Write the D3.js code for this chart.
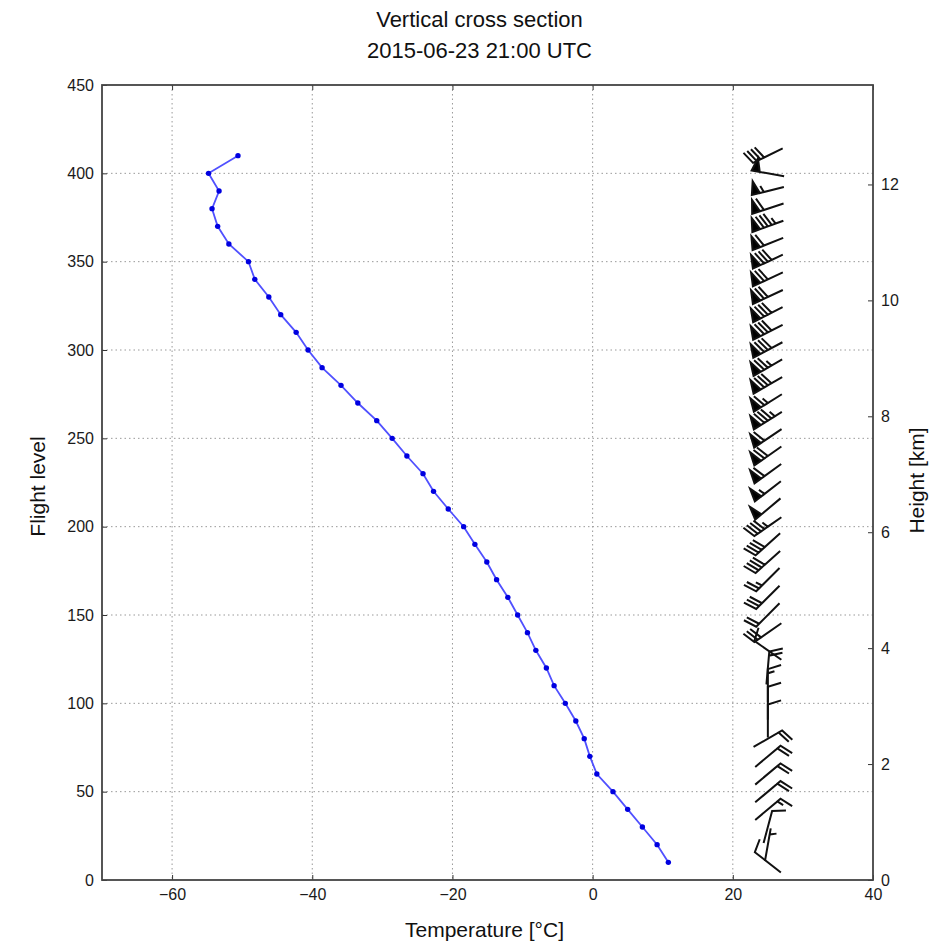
<!DOCTYPE html>
<html>
<head>
<meta charset="utf-8">
<script src="https://cdn.jsdelivr.net/npm/d3@7"></script>
<style>
  body { margin: 0; background: #fff; }
  svg { font-family: "Liberation Sans", Arial, sans-serif; }
</style>
</head>
<body>
<svg id="chart" width="934" height="942"></svg>
<script>
// flight levels of the sounding (hundreds of feet)
var flightLevels = [10, 20, 30, 40, 50, 60, 70, 80, 90, 100,
    110, 120, 130, 140, 150, 160, 170, 180, 190, 200,
    210, 220, 230, 240, 250, 260, 270, 280, 290, 300,
    310, 320, 330, 340, 350, 360, 370, 380, 390, 400, 410];

// temperature in degC
var temperature = [10.8, 9.2, 7.1, 5.0, 2.9, 0.6, -0.4, -1.2, -2.4, -3.9,
    -5.5, -6.6, -8.1, -9.3, -10.7, -12.1, -13.7, -15.1, -16.8, -18.4,
    -20.6, -22.7, -24.2, -26.5, -28.6, -30.8, -33.5, -35.9, -38.6, -40.6,
    -42.3, -44.5, -46.2, -48.2, -49.1, -51.9, -53.5, -54.3, -53.3, -54.8, -50.6];

// wind direction (deg, from) and speed (kt)
var windDir = [308, 10, 15, 50, 50, 50, 50, 60, 0, 0,
    0, 5, 305, 235, 225, 225, 225, 228, 228, 235,
    230, 232, 234, 235, 236, 238, 238, 240, 240, 242,
    243, 243, 245, 245, 245, 248, 250, 252, 256, 280, 244];
var windSpeed = [10, 5, 10, 15, 20, 20, 20, 20, 10, 10,
    15, 20, 10, 30, 20, 30, 25, 40, 40, 45,
    50, 55, 60, 70, 60, 85, 65, 80, 75, 80,
    80, 80, 70, 70, 80, 60, 85, 60, 55, 50, 40];

var barbX = 25;

var xTicks = [-60, -40, -20, 0, 20, 40];
var yTicks = [0, 50, 100, 150, 200, 250, 300, 350, 400, 450];
var kmTicks = [0, 2, 4, 6, 8, 10, 12];

var svg = d3.select("#chart");

var pLeft = 102, pRight = 873, pTop = 85, pBottom = 880;

var x = d3.scaleLinear().domain([-70, 40]).range([pLeft, pRight]);
var y = d3.scaleLinear().domain([0, 450]).range([pBottom, pTop]);
var yKm = d3.scaleLinear().domain([0, 450 * 100 * 0.3048 / 1000]).range([pBottom, pTop]);

// grid
var grid = svg.append("g");
grid.selectAll(".gx").data(xTicks.filter(function(d){ return d > -70 && d < 40; }))
    .enter().append("line")
    .attr("x1", function(d){ return x(d); }).attr("x2", function(d){ return x(d); })
    .attr("y1", pTop).attr("y2", pBottom)
    .attr("stroke", "#999").attr("stroke-width", 1).attr("stroke-dasharray", "1.5,3");
grid.selectAll(".gy").data(yTicks.filter(function(d){ return d > 0 && d < 450; }))
    .enter().append("line")
    .attr("x1", pLeft).attr("x2", pRight)
    .attr("y1", function(d){ return y(d); }).attr("y2", function(d){ return y(d); })
    .attr("stroke", "#999").attr("stroke-width", 1).attr("stroke-dasharray", "1.5,3");

// axes
var axisBottom = d3.axisBottom(x).tickValues(xTicks).tickSizeInner(-5).tickSizeOuter(0).tickPadding(9)
    .tickFormat(function(d){ return d < 0 ? "\u2212" + Math.abs(d) : d; });
var axisLeft = d3.axisLeft(y).tickValues(yTicks).tickSizeInner(-5).tickSizeOuter(0).tickPadding(8);
var axisRight = d3.axisRight(yKm).tickValues(kmTicks).tickSizeInner(-5).tickSizeOuter(0).tickPadding(8);
var axisTop = d3.axisTop(x).tickValues(xTicks).tickSizeInner(-5).tickSizeOuter(0).tickFormat("");

function styleAxis(g) {
    g.select(".domain").remove();
    g.selectAll("line").attr("stroke", "#333");
    g.selectAll("text").attr("font-size", "16px").attr("fill", "#1a1a1a")
        .attr("font-family", "Liberation Sans, Arial, sans-serif");
}

svg.append("g").attr("transform", "translate(0," + pBottom + ")").call(axisBottom).call(styleAxis);
svg.append("g").attr("transform", "translate(" + pLeft + ",0)").call(axisLeft).call(styleAxis);
svg.append("g").attr("transform", "translate(" + pRight + ",0)").call(axisRight).call(styleAxis);
svg.append("g").attr("transform", "translate(0," + pTop + ")").call(axisTop).call(styleAxis);

svg.append("rect")
    .attr("x", pLeft).attr("y", pTop)
    .attr("width", pRight - pLeft).attr("height", pBottom - pTop)
    .attr("fill", "none").attr("stroke", "#444").attr("stroke-width", 1.8);

// temperature profile
var line = d3.line()
    .x(function(d, i){ return x(temperature[i]); })
    .y(function(d){ return y(d); });

svg.append("path")
    .datum(flightLevels)
    .attr("d", line)
    .attr("fill", "none")
    .attr("stroke", "#5050ff")
    .attr("stroke-width", 1.8);

svg.selectAll(".pt").data(flightLevels).enter().append("circle")
    .attr("cx", function(d, i){ return x(temperature[i]); })
    .attr("cy", function(d){ return y(d); })
    .attr("r", 2.7)
    .attr("fill", "#0000e0");

// wind barbs, same construction as matplotlib barbs (pivot middle)
var L = 33;
function barbPath(cx, cy, dir, spd) {
    var rad = dir * Math.PI / 180;
    var u = -spd * Math.sin(rad), v = -spd * Math.cos(rad);
    var mag = 5 * Math.floor(spd / 5 + 0.5);
    var nflags = Math.floor(mag / 50); mag -= nflags * 50;
    var nbarbs = Math.floor(mag / 10); mag -= nbarbs * 10;
    var half = mag >= 5;
    var spacing = L * 0.125, h = L * 0.4, w = L * 0.25;
    var ex = 0, ey = -L / 2;
    var pts = [[ex, ey]];
    var offset = L;
    for (var i = 0; i < nflags; i++) {
        if (offset != L) offset += spacing / 2;
        pts.push([ex, ey + offset], [ex + h, ey - w / 2 + offset], [ex, ey - w + offset]);
        offset -= w + spacing;
    }
    for (var j = 0; j < nbarbs; j++) {
        pts.push([ex, ey + offset], [ex + h, ey + offset + w / 2], [ex, ey + offset]);
        offset -= spacing;
    }
    if (half) {
        if (offset == L) {
            pts.push([ex, ey + offset]);
            offset -= 1.5 * spacing;
        }
        pts.push([ex, ey + offset], [ex + h / 2, ey + offset + w / 4], [ex, ey + offset]);
    }
    var th = Math.atan2(v, u) + Math.PI / 2;
    var c = Math.cos(th), s = Math.sin(th);
    return "M" + pts.map(function(p){
        var px = p[0] * c - p[1] * s;
        var py = p[0] * s + p[1] * c;
        return (cx + px).toFixed(2) + "," + (cy - py).toFixed(2);
    }).join("L") + "Z";
}

svg.selectAll(".barb").data(flightLevels).enter().append("path")
    .attr("d", function(d, i){ return barbPath(x(barbX), y(d), windDir[i], windSpeed[i]); })
    .attr("fill", "#000")
    .attr("stroke", "#111")
    .attr("stroke-width", 2)
    .attr("stroke-linejoin", "miter");

// titles and labels
var cxPlot = (pLeft + pRight) / 2;
svg.append("text").attr("x", cxPlot - 8).attr("y", 27).attr("text-anchor", "middle")
    .attr("font-size", "22px").attr("fill", "#111").text("Vertical cross section");
svg.append("text").attr("x", cxPlot - 8).attr("y", 58).attr("text-anchor", "middle")
    .attr("font-size", "22px").attr("fill", "#111").text("2015-06-23 21:00 UTC");
svg.append("text").attr("x", cxPlot - 3).attr("y", 937).attr("text-anchor", "middle")
    .attr("font-size", "21px").attr("fill", "#111").text("Temperature [\u00b0C]");
svg.append("text").attr("transform", "translate(45," + ((pTop + pBottom) / 2 + 4) + ") rotate(-90)")
    .attr("text-anchor", "middle").attr("font-size", "21px").attr("fill", "#111").text("Flight level");
svg.append("text").attr("transform", "translate(924," + ((pTop + pBottom) / 2 - 2) + ") rotate(-90)")
    .attr("text-anchor", "middle").attr("font-size", "21px").attr("fill", "#111").text("Height [km]");
</script>
</body>
</html>
